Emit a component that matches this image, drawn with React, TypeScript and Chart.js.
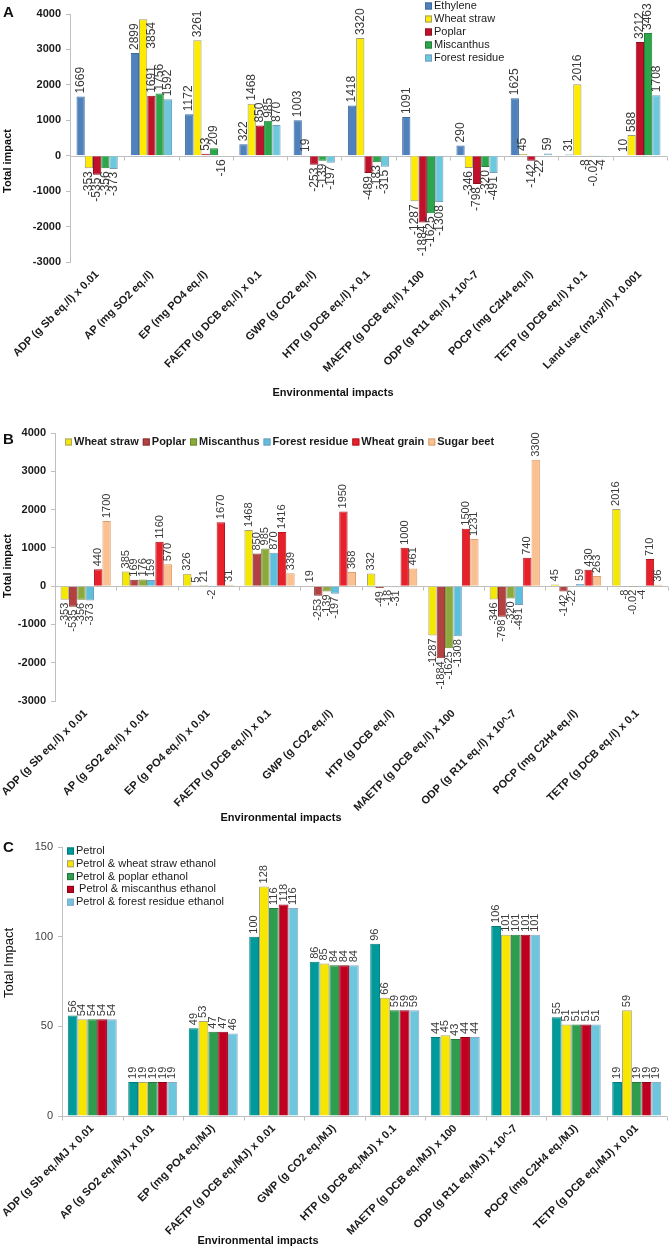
import React, { useEffect, useRef } from 'react';
import { Chart, registerables } from 'chart.js';
Chart.register(...registerables);

const FONT = '"Liberation Sans", Arial, Helvetica, sans-serif';

// ---------- Panel A ----------
const categoriesA = [
  'ADP (g Sb eq./l) x 0.01',
  'AP (mg SO2 eq./l)',
  'EP (mg PO4 eq./l)',
  'FAETP (g DCB eq./l) x 0.1',
  'GWP (g CO2 eq./l)',
  'HTP (g DCB eq./l) x 0.1',
  'MAETP (g DCB eq./l) x 100',
  'ODP (g R11 eq./l) x 10^-7',
  'POCP (mg C2H4 eq./l)',
  'TETP (g DCB eq./l) x 0.1',
  'Land use (m2.yr/l) x 0.001',
];
const seriesA = ['Ethylene', 'Wheat straw', 'Poplar', 'Miscanthus', 'Forest residue'];
const ethyleneA = [1669, 2899, 1172, 322, 1003, 1418, 1091, 290, 1625, 31, 10];
const wheatStrawA = [-353, 3854, 3261, 1468, 19, 3320, -1287, -346, 45, 2016, 588];
const poplarA = [-535, 1691, 53, 850, -253, -489, -1884, -798, -142, -8, 3212];
const miscanthusA = [-356, 1756, 209, 985, -139, -183, -1625, -320, -22, -0.02, 3463];
const forestResidueA = [-373, 1592, -16, 870, -197, -315, -1308, -491, 59, -4, 1708];
const yTicksA = [-3000, 4000, 1000];

// ---------- Panel B ----------
const categoriesB = [
  'ADP (g Sb eq./l) x 0.01',
  'AP (g SO2 eq./l) x 0.01',
  'EP (g PO4 eq./l) x 0.01',
  'FAETP (g DCB eq./l) x 0.1',
  'GWP (g CO2 eq./l)',
  'HTP (g DCB eq./l)',
  'MAETP (g DCB eq./l) x 100',
  'ODP (g R11 eq./l) x 10^-7',
  'POCP (mg C2H4 eq./l)',
  'TETP (g DCB eq./l) x 0.1',
];
const seriesB = ['Wheat straw', 'Poplar', 'Miscanthus', 'Forest residue', 'Wheat grain', 'Sugar beet'];
const wheatStrawB = [-353, 385, 326, 1468, 19, 332, -1287, -346, 45, 2016];
const poplarB = [-535, 169, 5, 850, -253, -49, -1884, -798, -142, -8];
const miscanthusB = [-356, 176, 21, 985, -139, -18, -1625, -320, -22, -0.02];
const forestResidueB = [-373, 159, -2, 870, -197, -31, -1308, -491, 59, -4];
const wheatGrainB = [440, 1160, 1670, 1416, 1950, 1000, 1500, 740, 430, 710];
const sugarBeetB = [1700, 570, 31, 339, 368, 461, 1231, 3300, 263, 36];
const yTicksB = [-3000, 4000, 1000];

// ---------- Panel C ----------
const categoriesC = [
  'ADP (g Sb eq./MJ x 0.01',
  'AP (g SO2 eq./MJ) x 0.01',
  'EP (mg PO4 eq./MJ)',
  'FAETP (g DCB eq./MJ) x 0.01',
  'GWP (g CO2 eq./MJ)',
  'HTP (g DCB eq./MJ) x 0.1',
  'MAETP (g DCB eq./MJ) x 100',
  'ODP (g R11 eq./MJ) x 10^-7',
  'POCP (mg C2H4 eq./MJ)',
  'TETP (g DCB eq./MJ) x 0.01',
];
const seriesC = [
  'Petrol',
  'Petrol & wheat straw ethanol',
  'Petrol & poplar ethanol',
  ' Petrol & miscanthus ethanol',
  'Petrol & forest residue ethanol',
];
const petrolC = [56, 19, 49, 100, 86, 96, 44, 106, 55, 19];
const wheatStrawC = [54, 19, 53, 128, 85, 66, 45, 101, 51, 59];
const poplarC = [54, 19, 47, 116, 84, 59, 43, 101, 51, 19];
const miscanthusC = [54, 19, 47, 118, 84, 59, 44, 101, 51, 19];
const forestResidueC = [54, 19, 46, 116, 84, 59, 44, 101, 51, 19];
const yTicksC = [0, 150, 50];

type DS = { name: string; data: number[]; color: string; border: string };
type Spec = {
  labels: string[];
  datasets: DS[];
  yRange: number[];
  area: { left: number; right: number; top: number; bottom: number };
  catPct: number;
  yTickFont: any;
  yTickColor: string;
  xFont: any;
  xPad: number;
  letter: { text: string; x: number; y: number };
  yTitle: { text: string; x: number; y: number; font: string };
  xTitle: { text: string; x: number; y: number; font: string };
  legend: { kind: 'v' | 'h'; x: number; y: number; rowH: number; font: string; sq: number };
  labelFont: string;
  fmt: (v: number) => string;
};

function buildChart(canvas: HTMLCanvasElement, s: Spec) {
  const W = canvas.width;
  const H = canvas.height;
  const decor = {
    id: 'decor',
    beforeDatasetsDraw(chart: any) {
      const ctx = chart.ctx;
      const ca = chart.chartArea;
      const y0 = Math.round(chart.scales.y.getPixelForValue(0)) + 0.5;
      const n = s.labels.length;
      const w = (ca.right - ca.left) / n;
      ctx.save();
      ctx.strokeStyle = '#BFBFBF';
      ctx.lineWidth = 1;
      ctx.beginPath();
      ctx.moveTo(ca.left, y0);
      ctx.lineTo(ca.right, y0);
      for (let i = 0; i <= n; i++) {
        const x = Math.round(ca.left + i * w) + 0.5;
        ctx.moveTo(x, y0);
        ctx.lineTo(x, y0 + 4);
      }
      ctx.stroke();
      ctx.restore();
    },
    afterDatasetsDraw(chart: any) {
      const ctx = chart.ctx;
      ctx.save();
      ctx.font = s.labelFont;
      ctx.fillStyle = '#3a3a3a';
      ctx.textBaseline = 'middle';
      chart.data.datasets.forEach((ds: any, i: number) => {
        const meta = chart.getDatasetMeta(i);
        meta.data.forEach((el: any, j: number) => {
          const v = ds.data[j];
          const txt = s.fmt(v);
          const tw = ctx.measureText(txt).width;
          ctx.save();
          if (v >= 0) {
            let ay = Math.min(el.y, el.base) - 3;
            let ax = el.x;
            if (ay - tw < 2) {
              // not enough room above: keep the label inside the canvas, beside the bar
              ay = tw + 2 + 20;
              ax = el.x + el.width;
            }
            ctx.translate(ax, ay);
            ctx.rotate(-Math.PI / 2);
            ctx.textAlign = 'left';
          } else {
            ctx.translate(el.x, Math.max(el.y, el.base) + 3);
            ctx.rotate(-Math.PI / 2);
            ctx.textAlign = 'right';
          }
          ctx.fillText(txt, 0, 0);
          ctx.restore();
        });
      });
      ctx.restore();
    },
    afterDraw(chart: any) {
      const ctx = chart.ctx;
      ctx.save();
      ctx.fillStyle = '#111';
      ctx.font = `bold 15px ${FONT}`;
      ctx.textAlign = 'left';
      ctx.textBaseline = 'middle';
      ctx.fillText(s.letter.text, s.letter.x, s.letter.y);
      ctx.save();
      ctx.translate(s.yTitle.x, s.yTitle.y);
      ctx.rotate(-Math.PI / 2);
      ctx.textAlign = 'center';
      ctx.font = s.yTitle.font;
      ctx.fillStyle = '#111';
      ctx.fillText(s.yTitle.text, 0, 0);
      ctx.restore();
      ctx.textAlign = 'center';
      ctx.font = s.xTitle.font;
      ctx.fillText(s.xTitle.text, s.xTitle.x, s.xTitle.y);
      const lg = s.legend;
      ctx.font = lg.font;
      ctx.textAlign = 'left';
      ctx.textBaseline = 'middle';
      let cx = lg.x;
      s.datasets.forEach((d, i) => {
        const sx = lg.kind === 'v' ? lg.x : cx;
        const sy = lg.kind === 'v' ? lg.y + i * lg.rowH : lg.y;
        ctx.fillStyle = d.color;
        ctx.fillRect(sx, sy - lg.sq / 2, lg.sq, lg.sq);
        ctx.strokeStyle = d.border;
        ctx.lineWidth = 1;
        ctx.strokeRect(sx + 0.5, sy - lg.sq / 2 + 0.5, lg.sq - 1, lg.sq - 1);
        ctx.fillStyle = '#1a1a1a';
        ctx.fillText(d.name, sx + lg.sq + 2, sy);
        if (lg.kind === 'h') cx = sx + lg.sq + 2 + ctx.measureText(d.name).width + 4;
      });
      ctx.restore();
    },
  };

  return new Chart(canvas, {
    type: 'bar',
    data: {
      labels: s.labels,
      datasets: s.datasets.map((d) => ({
        label: d.name,
        data: d.data,
        backgroundColor: d.color,
        borderColor: d.border,
        borderWidth: 1,
        categoryPercentage: s.catPct,
        barPercentage: 1,
      })),
    },
    options: {
      responsive: false,
      animation: false,
      layout: { padding: { top: s.area.top, right: W - s.area.right, left: 0, bottom: 0 } },
      plugins: { legend: { display: false }, tooltip: { enabled: false } },
      scales: {
        x: {
          grid: { display: false, drawTicks: false },
          border: { display: false },
          ticks: {
            autoSkip: false,
            minRotation: 45,
            maxRotation: 45,
            padding: s.xPad,
            font: s.xFont,
            color: '#1a1a1a',
          },
          afterFit(scale: any) {
            scale.height = H - s.area.bottom;
            scale.paddingLeft = 0;
            scale.paddingRight = 0;
          },
        },
        y: {
          min: s.yRange[0],
          max: s.yRange[1],
          ticks: {
            stepSize: s.yRange[2],
            font: s.yTickFont,
            color: s.yTickColor,
            padding: 5,
            callback: (v: any) => String(v),
          },
          grid: { drawOnChartArea: false, drawTicks: true, tickLength: 4, color: '#BFBFBF' },
          border: { display: true, color: '#BFBFBF' },
          afterFit(scale: any) {
            scale.width = s.area.left;
            scale.paddingTop = 0;
            scale.paddingBottom = 0;
          },
        },
      },
    },
    plugins: [decor],
  } as any);
}

const boldTick = { family: FONT, size: 11, weight: 'bold' };

const specA: Spec = {
  labels: categoriesA,
  datasets: [
    { name: seriesA[0], data: ethyleneA, color: '#4F81BD', border: '#3D6B9E' },
    { name: seriesA[1], data: wheatStrawA, color: '#FFEB00', border: '#9C9C7A' },
    { name: seriesA[2], data: poplarA, color: '#C0102A', border: '#8E1020' },
    { name: seriesA[3], data: miscanthusA, color: '#2CA64B', border: '#23803B' },
    { name: seriesA[4], data: forestResidueA, color: '#6CC8DC', border: '#7A9CBC' },
  ],
  yRange: yTicksA,
  area: { left: 70, right: 667, top: 14, bottom: 262 },
  catPct: 0.76,
  yTickFont: boldTick,
  yTickColor: '#1a1a1a',
  xFont: { family: FONT, size: 11, weight: 'bold' },
  xPad: 6,
  letter: { text: 'A', x: 3, y: 13 },
  yTitle: { text: 'Total impact', x: 8, y: 161, font: `bold 11px ${FONT}` },
  xTitle: { text: 'Environmental impacts', x: 333, y: 393, font: `bold 11px ${FONT}` },
  legend: { kind: 'v', x: 425, y: 6, rowH: 13, font: `11px ${FONT}`, sq: 7 },
  labelFont: `12px ${FONT}`,
  fmt: (v) => String(v),
};

const specB: Spec = {
  labels: categoriesB,
  datasets: [
    { name: seriesB[0], data: wheatStrawB, color: '#F5E800', border: '#A8A27A' },
    { name: seriesB[1], data: poplarB, color: '#B34141', border: '#8C3030' },
    { name: seriesB[2], data: miscanthusB, color: '#8CAA3C', border: '#6E8A2E' },
    { name: seriesB[3], data: forestResidueB, color: '#5CC0DC', border: '#7A9CBC' },
    { name: seriesB[4], data: wheatGrainB, color: '#E8202A', border: '#B0181F' },
    { name: seriesB[5], data: sugarBeetB, color: '#FAC08F', border: '#D9A070' },
  ],
  yRange: yTicksB,
  area: { left: 55, right: 668, top: 28, bottom: 296 },
  catPct: 0.82,
  yTickFont: boldTick,
  yTickColor: '#1a1a1a',
  xFont: { family: FONT, size: 11, weight: 'bold' },
  xPad: 6,
  letter: { text: 'B', x: 3, y: 35 },
  yTitle: { text: 'Total impact', x: 8, y: 161, font: `bold 11px ${FONT}` },
  xTitle: { text: 'Environmental impacts', x: 281, y: 413, font: `bold 11px ${FONT}` },
  legend: { kind: 'h', x: 65, y: 37, rowH: 0, font: `bold 11px ${FONT}`, sq: 7 },
  labelFont: `11px ${FONT}`,
  fmt: (v) => String(v),
};

const specC: Spec = {
  labels: categoriesC,
  datasets: [
    { name: seriesC[0], data: petrolC, color: '#009A9A', border: '#007A7A' },
    { name: seriesC[1], data: wheatStrawC, color: '#F7E600', border: '#A8A27A' },
    { name: seriesC[2], data: poplarC, color: '#2E9E4E', border: '#237A3B' },
    { name: seriesC[3], data: miscanthusC, color: '#C00020', border: '#8E0018' },
    { name: seriesC[4], data: forestResidueC, color: '#6EC6DC', border: '#8EA9C8' },
  ],
  yRange: yTicksC,
  area: { left: 62, right: 667, top: 22, bottom: 291 },
  catPct: 0.81,
  yTickFont: { family: FONT, size: 11 },
  yTickColor: '#404040',
  xFont: { family: FONT, size: 11, weight: 'bold' },
  xPad: 6,
  letter: { text: 'C', x: 3, y: 23 },
  yTitle: { text: 'Total Impact', x: 9, y: 138, font: `13px ${FONT}` },
  xTitle: { text: 'Environmental impacts', x: 258, y: 416, font: `bold 11px ${FONT}` },
  legend: { kind: 'v', x: 67, y: 26, rowH: 12.8, font: `11px ${FONT}`, sq: 7 },
  labelFont: `11px ${FONT}`,
  fmt: (v) => String(Math.round(v)),
};

export default function App() {
  const refA = useRef<HTMLCanvasElement>(null);
  const refB = useRef<HTMLCanvasElement>(null);
  const refC = useRef<HTMLCanvasElement>(null);
  useEffect(() => {
    const charts = [
      buildChart(refA.current!, specA),
      buildChart(refB.current!, specB),
      buildChart(refC.current!, specC),
    ];
    return () => charts.forEach((c) => c.destroy());
  }, []);
  return (
    <div style={{ position: 'absolute', left: 0, top: 0, width: 669, height: 1250, background: '#fff' }}>
      <canvas ref={refA} width={669} height={405} style={{ position: 'absolute', left: 0, top: 0 }} />
      <canvas ref={refB} width={669} height={420} style={{ position: 'absolute', left: 0, top: 405 }} />
      <canvas ref={refC} width={669} height={425} style={{ position: 'absolute', left: 0, top: 825 }} />
    </div>
  );
}
